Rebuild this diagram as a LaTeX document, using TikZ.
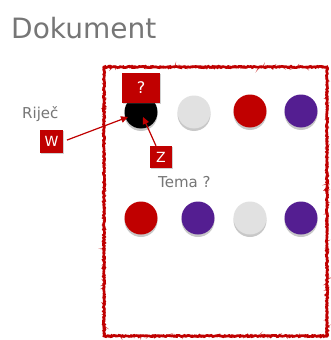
\documentclass[tikz,border=0pt]{standalone}
\usepackage{fontspec}
\setmainfont{DejaVu Sans}
\usetikzlibrary{shadows,decorations.pathmorphing,arrows.meta}
\definecolor{dred}{RGB}{192,0,0}
\definecolor{dpurple}{RGB}{84,30,145}
\definecolor{lgray}{RGB}{225,225,225}
\definecolor{tgray}{RGB}{118,118,118}
\tikzset{
  dot/.style={circle,minimum size=33pt,inner sep=0pt,
    drop shadow={shadow xshift=0pt,shadow yshift=-2.5pt,opacity=0.3,fill=black!70}},
  redbox/.style={rectangle,fill=dred,text=white,inner sep=0pt,
    drop shadow={shadow xshift=1pt,shadow yshift=-1pt,opacity=0.3,fill=black!60}},
  lbl/.style={text=tgray,inner sep=0pt,anchor=base west},
  arr/.style={draw=dred,line width=1.2pt,-{Triangle[length=7pt,width=6.5pt]}},
  frame/.style={draw=dred,line width=2.6pt,decorate,
    decoration={random steps,segment length=1.2pt,amplitude=0.7pt}}
}
\begin{document}
\begin{tikzpicture}[x=1pt,y=-1pt]
\useasboundingbox[fill=white] (0,0) rectangle (330,340);
% title
\node[lbl,font=\fontsize{28}{30}\selectfont] (title) at (11,38) {Dokument};
% frame
\pgfmathsetseed{7}
\draw[frame] (104,67) rectangle (327,336);
\pgfmathsetseed{21}
\draw[frame,line width=1.2pt,opacity=0.7,decoration={random steps,segment length=1pt,amplitude=1.2pt}] (104,67) rectangle (327,336);
% circles row 1
\node[dot,fill=black]   (blk) at (141,112) {};
\node[dot,fill=lgray]   (c12) at (194,112) {};
\node[dot,fill=dred]    (c13) at (250,111) {};
\node[dot,fill=dpurple] (c14) at (301,111) {};
% circles row 2
\node[dot,fill=dred]    (c21) at (141,218) {};
\node[dot,fill=dpurple] (c22) at (198,218) {};
\node[dot,fill=lgray]   (c23) at (250,218) {};
\node[dot,fill=dpurple] (c24) at (301,218) {};
% labels
\node[lbl,font=\fontsize{15}{17}\selectfont] (rijec) at (22,118) {Riječ};
\node[lbl,font=\fontsize{15}{17}\selectfont] (tema) at (158,187) {Tema ?};
% boxes
\node[redbox,minimum width=38pt,minimum height=30pt,font=\fontsize{16}{18}\selectfont] (q) at (141,88) {?};
\node[redbox,minimum width=23pt,minimum height=23pt,font=\fontsize{14}{16}\selectfont] (w) at (51.5,141.5) {W};
\node[redbox,minimum width=22pt,minimum height=22pt,font=\fontsize{14}{16}\selectfont] (z) at (161,157) {Z};
% arrow ends
\coordinate (wend) at (128,117);
\coordinate (zend) at (143,117);
\draw[arr,shorten <=4pt] (w.east) -- (wend);
\draw[arr] (z) -- (zend);
\end{tikzpicture}
\end{document}
